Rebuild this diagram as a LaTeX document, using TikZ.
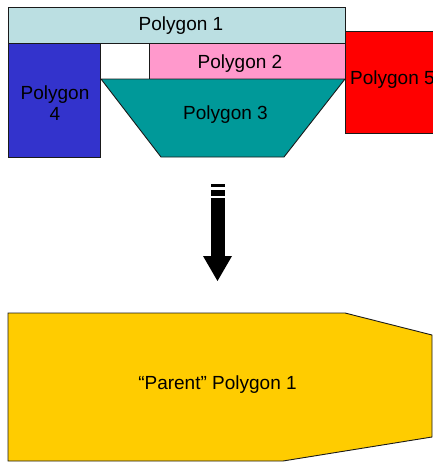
\documentclass[tikz,border=0pt]{standalone}
\usepackage{fontspec}
\setmainfont{Liberation Sans}
\definecolor{polyA}{HTML}{BBDFE2}
\definecolor{polyB}{HTML}{FF99CC}
\definecolor{polyC}{HTML}{009999}
\definecolor{polyD}{HTML}{3333CC}
\definecolor{polyE}{HTML}{FF0000}
\definecolor{parent}{HTML}{FFCC00}
\definecolor{edge}{HTML}{1A1A1A}
\begin{document}
\begin{tikzpicture}[x=1pt,y=-1pt,
  polyshape/.style={draw=edge,line width=0.9pt,line join=miter},
  polylabel/.style={font=\fontsize{19}{21}\selectfont,text=black,inner sep=0pt,align=center}]
\clip (0,0) rectangle (433,463);
% sub-polygons
\path[polyshape,fill=polyA] (8,7) rectangle (345,43);
\path[polyshape,fill=polyB] (149,43) rectangle (345,79);
\path[polyshape,fill=polyD] (8,43) rectangle (100,157);
\path[polyshape,fill=polyC] (101,79) -- (345,79) -- (284,157) -- (161,157) -- cycle;
\path[polyshape,fill=polyE] (345,31) rectangle (445,133);
\node[polylabel] (p1) at (181,26) {Polygon 1};
\node[polylabel] (p2) at (240,64) {Polygon 2};
\node[polylabel] (p3) at (225.5,115) {Polygon 3};
\node[polylabel] (p4) at (55,103) {Polygon\\4};
\node[polylabel,anchor=base west] (p5) at (350,84) {Polygon 5};
% block arrow
\fill[black] (211,184) rectangle (225,187);
\fill[black] (211,190) rectangle (225,196);
\fill[black] (211,198) rectangle (225,256.5);
\fill[black] (203,256) -- (232,256) -- (217.5,281) -- cycle;
% merged polygon
\path[polyshape,fill=parent] (8,313) -- (345,313) -- (432,335) -- (432,437) -- (283,461) -- (8,461) -- cycle;
\node[polylabel] (parentlabel) at (217.5,385) {“Parent” Polygon 1};
\end{tikzpicture}
\end{document}
